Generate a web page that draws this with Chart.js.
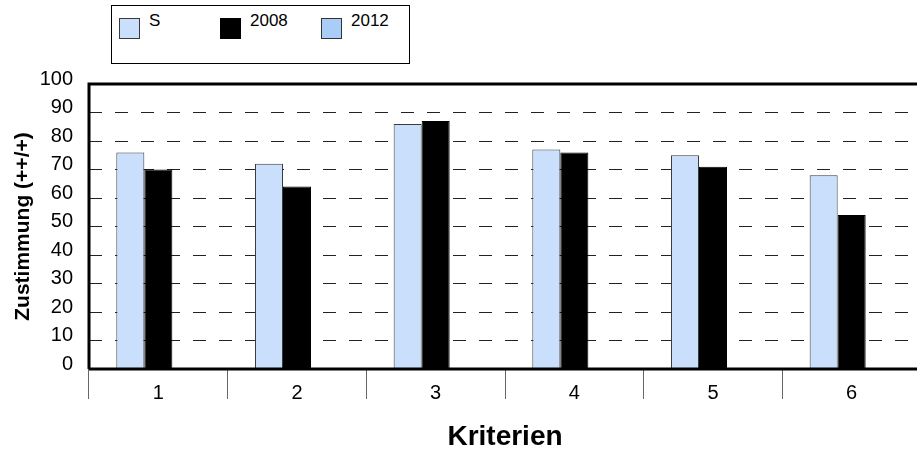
<!DOCTYPE html>
<html>
<head>
<meta charset="utf-8">
<script src="https://cdn.jsdelivr.net/npm/chart.js@4/dist/chart.umd.min.js"></script>
<style>
  html, body { margin: 0; padding: 0; background: #fff; overflow: hidden; }
  #wrap { position: relative; width: 925px; height: 454px; }
  #c { position: absolute; left: 0; top: 0; }
  #legend { position: absolute; left: 111px; top: 5px; width: 297px; height: 57px;
            border: 1px solid #000; background: #fff; font-family: "Liberation Sans", Arial, sans-serif; }
  .sw { position: absolute; top: 12px; width: 21px; height: 21px; box-sizing: border-box; border: 1px solid #333; }
  .lt { position: absolute; top: 5px; font-size: 17px; line-height: 20px; color: #000; white-space: nowrap; }
</style>
</head>
<body>
<div id="wrap">
  <canvas id="c" width="925" height="454"></canvas>
  <div id="legend"></div>
</div>
<script>
const categories = ["1", "2", "3", "4", "5", "6"];
const seriesNames = ["S", "2008", "2012"];
const valuesS = [76, 72, 86, 77, 75, 68];
const values2008 = [70, 64, 87, 76, 71, 54];
const values2012 = [null, null, null, null, null, null];
const yTicks = [0, 10, 20, 30, 40, 50, 60, 70, 80, 90, 100];

const fills = ["#c9dffb", "#000000", "#a9cdf7"];
const borders = ["#3a3a3a", "#000000", "#333333"];
const seriesValues = [valuesS, values2008, values2012];

const FONT = "'Liberation Sans', Arial, sans-serif";

const frame = {
  id: 'frame',
  afterDraw(chart) {
    const {ctx, chartArea: a} = chart;
    ctx.save();
    ctx.strokeStyle = '#000';
    ctx.lineWidth = 3;
    ctx.beginPath();
    ctx.moveTo(a.left, a.bottom);
    ctx.lineTo(a.left, a.top);
    ctx.lineTo(a.right, a.top);
    ctx.moveTo(a.left, a.bottom);
    ctx.lineTo(a.right, a.bottom);
    ctx.stroke();
    ctx.restore();
  }
};

new Chart(document.getElementById('c'), {
  type: 'bar',
  data: {
    labels: categories,
    datasets: seriesNames.map((n, i) => ({
      label: n,
      data: seriesValues[i],
      backgroundColor: fills[i],
      borderColor: borders[i],
      borderWidth: 1,
      barPercentage: 1,
      categoryPercentage: 0.606
    }))
  },
  options: {
    responsive: false,
    animation: false,
    devicePixelRatio: 1,
    layout: { padding: { top: 84, left: 0, right: 4, bottom: 0 } },
    plugins: { legend: { display: false }, tooltip: { enabled: false } },
    scales: {
      x: {
        offset: true,
        grid: { display: true, offset: true, drawOnChartArea: false, drawTicks: true,
                tickLength: 30, tickColor: '#666', tickWidth: 1 },
        border: { display: false },
        ticks: { color: '#000', font: { family: FONT, size: 20 }, padding: -18, maxRotation: 0 },
        title: { display: true, text: 'Kriterien', color: '#000',
                 font: { family: FONT, size: 28, weight: 'bold' }, padding: { top: 0, bottom: 0 } },
        afterFit(s) { s.height = 85; }
      },
      y: {
        min: 0, max: 100,
        afterBuildTicks(s) { s.ticks = yTicks.map(v => ({ value: v })); },
        grid: { color: '#222', lineWidth: 1, drawTicks: false },
        border: { display: false, dash: [13, 13] },
        ticks: { color: '#000', font: { family: FONT, size: 20 }, padding: 16, labelOffset: -5 },
        title: { display: true, text: 'Zustimmung (++/+)', color: '#000',
                 font: { family: FONT, size: 21, weight: 'bold' }, padding: { top: 11, bottom: 0 } },
        afterFit(s) { s.width = 89; }
      }
    }
  },
  plugins: [frame]
});

const legend = document.getElementById('legend');
seriesNames.forEach((n, i) => {
  const sw = document.createElement('div');
  sw.className = 'sw';
  sw.style.left = (7 + i * 101) + 'px';
  sw.style.background = fills[i];
  sw.style.borderColor = borders[i];
  legend.appendChild(sw);
  const t = document.createElement('span');
  t.className = 'lt';
  t.style.left = (37 + i * 101) + 'px';
  t.textContent = n;
  legend.appendChild(t);
});
</script>
</body>
</html>
